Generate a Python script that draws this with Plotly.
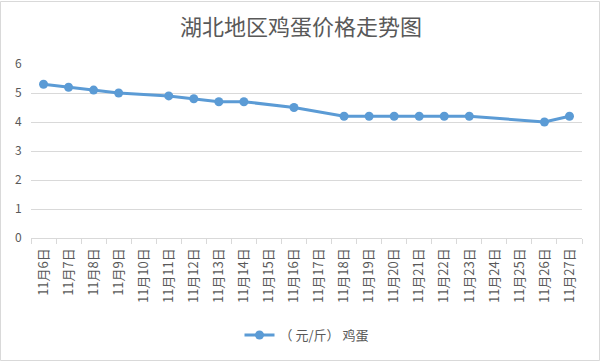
import plotly.graph_objects as go

dates = ["11月6日", "11月7日", "11月8日", "11月9日", "11月10日", "11月11日", "11月12日",
         "11月13日", "11月14日", "11月15日", "11月16日", "11月17日", "11月18日", "11月19日",
         "11月20日", "11月21日", "11月22日", "11月23日", "11月24日", "11月25日", "11月26日",
         "11月27日"]
prices = [5.3, 5.2, 5.1, 5.0, None, 4.9, 4.8, 4.7, 4.7, None, 4.5, None, 4.2, 4.2,
          4.2, 4.2, 4.2, 4.2, None, None, 4.0, 4.2]
series_name = "（ 元/斤） 鸡蛋"
y_ticks = [0, 1, 2, 3, 4, 5, 6]

font_family = "Noto Sans CJK SC, Noto Sans, sans-serif"
grey = "#595959"

fig = go.Figure()
fig.add_trace(go.Scatter(
    x=dates, y=prices, name=series_name, mode="lines+markers",
    connectgaps=True,
    line=dict(color="#5b9bd5", width=3),
    marker=dict(color="#5b9bd5", size=9),
))

L, R, T, B = 31, 20, 64, 124
pw, ph = 602 - L - R, 362 - T - B

fig.update_layout(
    width=602, height=362,
    margin=dict(l=L, r=R, t=T, b=B, pad=0, autoexpand=False),
    paper_bgcolor="white", plot_bgcolor="white",
    title=dict(text="湖北地区鸡蛋价格走势图", x=0.5, xanchor="center", y=1 - 27 / 362, yanchor="middle",
               font=dict(family=font_family, size=22, color=grey)),
    font=dict(family=font_family, size=12, color=grey),
    showlegend=True,
    legend=dict(orientation="h", x=0.5, xanchor="center", yref="container", y=1 - 335 / 362,
                yanchor="middle", font=dict(size=13, color=grey)),
    xaxis=dict(type="category", range=[-0.5, len(dates) - 0.5], tickangle=-90, showline=True,
               linecolor="#d9d9d9", ticks="outside", tickson="boundaries", ticklen=5,
               tickcolor="#d9d9d9", showgrid=False, tickfont=dict(size=13, color=grey),
               ticklabelstandoff=4, automargin=False),
    yaxis=dict(range=[0, 6], tickvals=y_ticks, showgrid=True, gridcolor="#d9d9d9",
               zeroline=False, showline=False, ticks="outside", ticklen=6, tickcolor="rgba(0,0,0,0)",
               tickfont=dict(size=12, color=grey), automargin=False),
    shapes=[dict(type="rect", xref="paper", yref="paper", x0=-(L - 0.5) / pw, x1=1 + (R - 2.5) / pw,
                 y0=-(B - 1.5) / ph, y1=1 + (T - 1.5) / ph, line=dict(color="#d9d9d9", width=1))],
)

fig.write_html("out.html", config={"displayModeBar": False},
               post_script="document.body.style.margin='0';")
